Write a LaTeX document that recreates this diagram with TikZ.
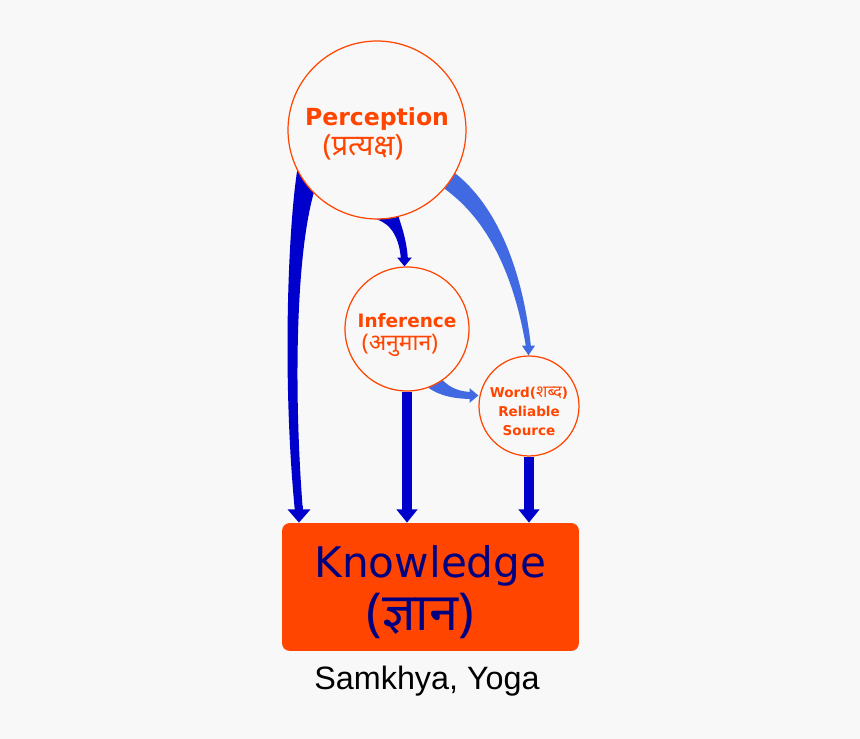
\documentclass[tikz,border=0pt]{standalone}
\usepackage{fontspec}
\newfontfamily\dvs{DejaVu Sans}
\newfontfamily\deva[Script=Devanagari,Scale=1.24]{Noto Sans}
\newfontfamily\arialfont{Liberation Sans}
\usetikzlibrary{arrows.meta}
\definecolor{bgc}{HTML}{F8F8F8}
\definecolor{ored}{HTML}{FF4500}
\definecolor{dblue}{HTML}{0000CC}
\definecolor{lblue}{HTML}{4169E1}
\definecolor{navyt}{HTML}{000080}
\pgfdeclarelayer{bg}
\pgfdeclarelayer{arr}
\pgfsetlayers{bg,arr,main}
\begin{document}
\begin{tikzpicture}[x=0.02cm,y=-0.02cm,line join=round,
  src/.style={circle,draw=ored,line width=0.7pt,fill=bgc,inner sep=0pt,align=center,text=ored},
  shaft/.style={line width=#1}]
  \begin{pgfonlayer}{bg}
    \fill[bgc] (0,0) rectangle (860,739);
  \end{pgfonlayer}
  \node[src,minimum size=3.56cm,font=\dvs\bfseries\fontsize{13.4}{17}\selectfont] (perc) at (377,130) {\rule{0pt}{15pt}Perception\\{\deva (प्रत्यक्ष)}\hspace*{0.56cm}};
  \node[src,minimum size=2.48cm,font=\dvs\bfseries\fontsize{10.5}{13}\selectfont] (inf) at (407,329) {\rule{0pt}{15pt}Inference\\{\deva (अनुमान)}\hspace*{0.28cm}};
  \node[src,minimum size=2cm,font=\dvs\bfseries\fontsize{7.7}{10.7}\selectfont] (word) at (529,406) {\rule{0pt}{12pt}Word({\deva शब्द})\\Reliable\\Source};
  \node[rectangle,rounded corners=4.5pt,fill=ored,minimum width=5.94cm,minimum height=2.56cm,align=center,text=navyt,font=\dvs\fontsize{24}{30}\selectfont] (know) at (430.5,587) {\rule{0pt}{24pt}Knowledge\\{\deva (ज्ञान)}\hspace*{0.4cm}};
  \node[font=\arialfont\fontsize{18.4}{22}\selectfont] (school) at (427,681) {Samkhya, Yoga};
  \begin{pgfonlayer}{arr}
    \fill[dblue] (perc.207) .. controls (288,230) and (282,380) .. (295,512) -- (303,512) .. controls (294,400) and (295,260) .. (perc.225) -- cycle;
    \draw[dblue,shaft=4.5pt,-{Triangle[width=12.5pt,length=7.5pt]}] (299,506) -- (299,506 |- know.north);
    \fill[dblue] (perc.-90) .. controls (392,224) and (400,240) .. (401,261) -- (408,261) .. controls (407,240) and (401,225) .. (perc.-76) -- cycle;
    \draw[dblue,shaft=3.5pt,-{Triangle[width=8pt,length=5pt]}] (404.5,259) -- (404.5,259 |- inf.north);
    \fill[lblue] (perc.-29) .. controls (495,205) and (522,265) .. (531,347) -- (526,347) .. controls (514,275) and (488,220) .. (perc.-41) -- cycle;
    \draw[lblue,shaft=2pt,-{Triangle[width=7pt,length=5.5pt]}] (528.5,344) -- (528.5,344 |- word.north);
    \fill[lblue] (inf.-55) .. controls (450,388) and (460,392) .. (473,392) -- (473,399) .. controls (455,399) and (440,396) .. (inf.-70) -- cycle;
    \draw[lblue,shaft=3.5pt,-{Triangle[width=8pt,length=5pt]}] (470,395.5) -- (470,395.5 -| word.west);
    \draw[dblue,shaft=5.7pt,-{Triangle[width=11.5pt,length=7.5pt]}] (inf.south) -- (inf.south |- know.north);
    \draw[dblue,shaft=5.7pt,-{Triangle[width=11.5pt,length=7.5pt]}] (word.south) -- (word.south |- know.north);
  \end{pgfonlayer}
\end{tikzpicture}
\end{document}
